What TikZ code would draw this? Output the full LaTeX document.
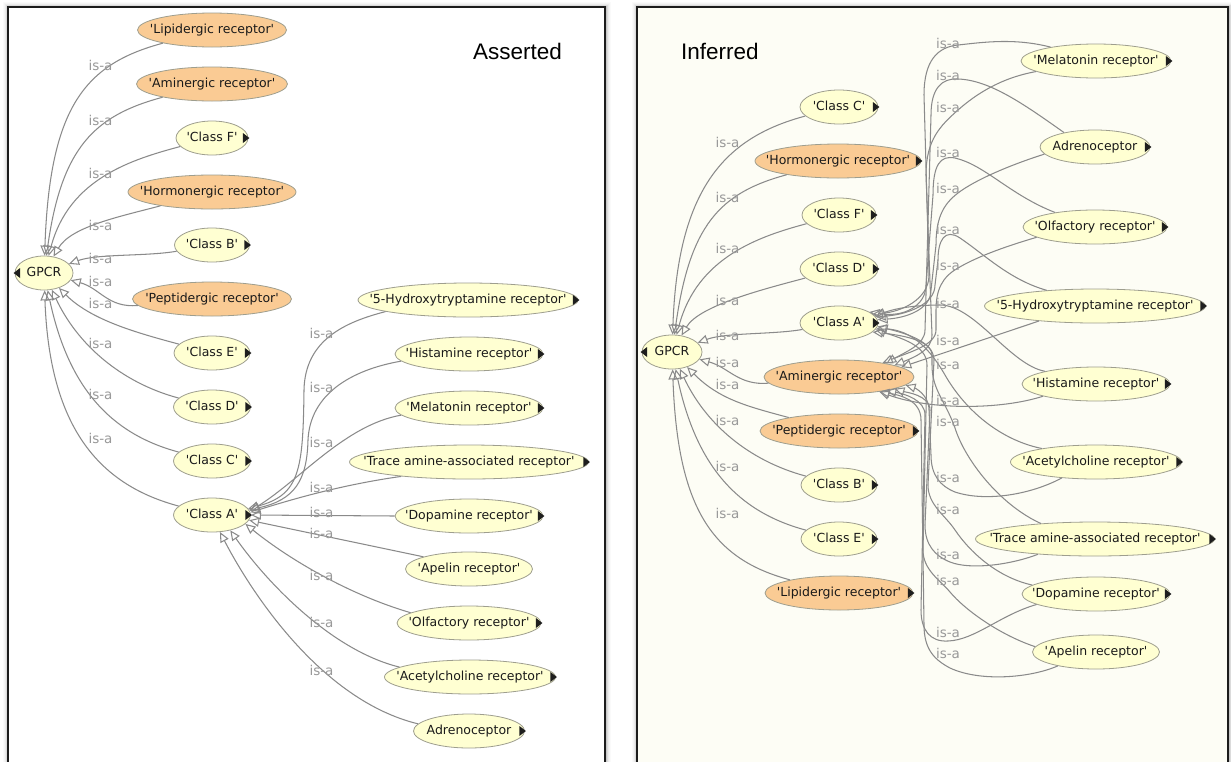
\documentclass[tikz,border=0pt]{standalone}
\usepackage{fontspec}
\usetikzlibrary{arrows.meta,shapes.geometric}
\newfontfamily\nodefont{DejaVu Sans}
\newfontfamily\headfont{Liberation Sans}
\definecolor{yelfill}{HTML}{FFFFD2}
\definecolor{orgfill}{HTML}{FACB94}
\definecolor{nodeline}{HTML}{9E9E8E}
\definecolor{edgecol}{HTML}{8A8A8A}
\definecolor{isacol}{HTML}{999999}
\definecolor{txtcol}{HTML}{1A1A1A}
\definecolor{markcol}{HTML}{1E1E1E}
\definecolor{creambg}{HTML}{FDFDF5}
\definecolor{framecol}{HTML}{1C1C1C}
% centred label that does not widen the ellipse
\newcommand\nt[1]{\makebox[0pt]{#1}}
% expand markers drawn on the ellipse ends
\newcommand\moreR[1]{\fill[markcol] ([xshift=-5.5pt,yshift=5pt]#1.east) -- ++(6.5,-5) -- ++(-6.5,-5) -- cycle;}
\newcommand\moreL[1]{\fill[markcol] ([xshift=5.5pt,yshift=5pt]#1.west) -- ++(-6.5,-5) -- ++(6.5,-5) -- cycle;}
\begin{document}
\begin{tikzpicture}[x=1pt,y=1pt,
  cls/.style={ellipse, draw=nodeline, line width=0.8pt, inner sep=0pt, minimum height=34pt,
    text=txtcol, font=\nodefont\fontsize{12.5}{14}\selectfont, text height=9pt, text depth=2.5pt},
  yel/.style={cls, fill=yelfill},
  org/.style={cls, fill=orgfill},
  isaedge/.style={draw=edgecol, line width=1.05pt, -{Triangle[open, length=10pt, width=9pt]}},
  isa/.style={text=isacol, font=\nodefont\fontsize{13.5}{15}\selectfont, inner sep=0pt},
  head/.style={font=\headfont\fontsize{22.5}{26}\selectfont, inner sep=0pt, anchor=base west}
]
\useasboundingbox (0,0) rectangle (1231,-761);
\clip (0,0) rectangle (1231,-761);
\fill[white] (0,0) rectangle (1231,-761);

% soft shadows round the two panels
\foreach \s/\o in {1/0.22,2/0.14,3/0.08,4/0.045,5/0.02}{
  \draw[black, opacity=\o, line width=1pt] (8-\s,-7+\s) rectangle (605+\s,-790);
  \draw[black, opacity=\o, line width=1pt] (637-\s,-7+\s) rectangle (1228+\s,-790);
}
\filldraw[fill=white, draw=framecol, line width=1.2pt] (8,-7) rectangle (605,-790);
\filldraw[fill=creambg, draw=framecol, line width=1.2pt] (637,-7) rectangle (1228,-790);

\node[head] (tA) at (473,-59) {Asserted};
\node[head] (tI) at (681,-59) {Inferred};

% ---------------- asserted hierarchy ----------------
\node[yel, minimum width=58pt]  (lG)    at (44,-273)  {\nt{GPCR}};
\node[org, minimum width=149pt] (lLip)  at (212,-30)  {\nt{'Lipidergic receptor'}};
\node[org, minimum width=151pt] (lAmin) at (212,-84)  {\nt{'Aminergic receptor'}};
\node[yel, minimum width=72pt]  (lF)    at (212,-138) {\nt{'Class F'}};
\node[org, minimum width=168pt] (lHorm) at (212,-192) {\nt{'Hormonergic receptor'}};
\node[yel, minimum width=75pt]  (lB)    at (212,-245) {\nt{'Class B'}};
\node[org, minimum width=159pt] (lPept) at (212,-299) {\nt{'Peptidergic receptor'}};
\node[yel, minimum width=76pt]  (lE)    at (212,-353) {\nt{'Class E'}};
\node[yel, minimum width=77pt]  (lD)    at (212,-407) {\nt{'Class D'}};
\node[yel, minimum width=77pt]  (lC)    at (212,-461) {\nt{'Class C'}};
\node[yel, minimum width=77pt]  (lA)    at (212,-515) {\nt{'Class A'}};

\node[yel, minimum width=220pt] (l5ht)   at (468,-300) {\nt{'5-Hydroxytryptamine receptor'}};
\node[yel, minimum width=148pt] (lHist)  at (469,-354) {\nt{'Histamine receptor'}};
\node[yel, minimum width=148pt] (lMel)   at (469,-408) {\nt{'Melatonin receptor'}};
\node[yel, minimum width=239pt] (lTrace) at (469,-462) {\nt{'Trace amine-associated receptor'}};
\node[yel, minimum width=148pt] (lDop)   at (469,-516) {\nt{'Dopamine receptor'}};
\node[yel, minimum width=127pt] (lApel)  at (469,-569) {\nt{'Apelin receptor'}};
\node[yel, minimum width=144pt] (lOlf)   at (469,-623) {\nt{'Olfactory receptor'}};
\node[yel, minimum width=171pt] (lAcet)  at (470,-677) {\nt{'Acetylcholine receptor'}};
\node[yel, minimum width=111pt] (lAdr)   at (469,-731) {\nt{Adrenoceptor}};

% edges to GPCR
\draw[isaedge] (lLip)  to[out=195, in=88,  out distance=80pt, in distance=150pt] (lG);
\draw[isaedge] (lAmin) to[out=195, in=82,  out distance=70pt, in distance=110pt] (lG);
\draw[isaedge] (lF)    to[out=195, in=75,  out distance=50pt, in distance=80pt]  (lG);
\draw[isaedge] (lHorm) to[out=195, in=60,  out distance=40pt, in distance=35pt]  (lG);
\draw[isaedge] (lB)    to[out=190, in=20,  out distance=30pt, in distance=30pt]  (lG);
\draw[isaedge] (lPept) to[out=185, in=-15, out distance=30pt, in distance=30pt]  (lG);
\draw[isaedge] (lE)    to[out=165, in=-45, out distance=45pt, in distance=45pt]  (lG);
\draw[isaedge] (lD)    to[out=165, in=-65, out distance=60pt, in distance=60pt]  (lG);
\draw[isaedge] (lC)    to[out=165, in=-78, out distance=70pt, in distance=100pt] (lG);
\draw[isaedge] (lA)    to[out=165, in=-88, out distance=80pt, in distance=140pt] (lG);

% edges to 'Class A'
\draw[isaedge] (l5ht.188) .. controls (345,-322) and (305,-340) .. (304,-390)
  .. controls (303,-470) and (300,-495) .. (lA.10);
\draw[isaedge] (lHist.186) .. controls (350,-370) and (310,-395) .. (308,-440)
  .. controls (307,-480) and (295,-500) .. (lA.8);
\draw[isaedge] (lMel.186) .. controls (345,-425) and (300,-480) .. (lA.6);
\draw[isaedge] (lTrace.192) .. controls (340,-485) and (290,-500) .. (lA.4);
\draw[isaedge] (lDop.west) -- (lA.east);
\draw[isaedge] (lApel.165) -- (lA.-8);
\draw[isaedge] (lOlf.170) .. controls (350,-595) and (290,-560) .. (lA.-15);
\draw[isaedge] (lAcet.172) .. controls (330,-650) and (265,-580) .. (lA.-40);
\draw[isaedge] (lAdr.172) .. controls (320,-700) and (250,-590) .. (lA.-65);

\foreach \y in {65,120,173,225,258,281,303,343,394,438}
  {\node[isa] at (100.5,-\y) {is-a};}
\foreach \y in {333,387,442,487,512,533,575,622,670}
  {\node[isa] at (321.5,-\y) {is-a};}

\moreL{lG}
\foreach \n in {lF,lB,lE,lD,lC,lA,l5ht,lHist,lMel,lTrace,lDop,lOlf,lAcet,lAdr}
  {\moreR{\n}}

% ---------------- inferred hierarchy ----------------
\node[yel, minimum width=60pt]  (rG)    at (672,-352) {\nt{GPCR}};
\node[yel, minimum width=78pt]  (rC)    at (839,-107) {\nt{'Class C'}};
\node[org, minimum width=166pt] (rHorm) at (838,-161) {\nt{'Hormonergic receptor'}};
\node[yel, minimum width=74pt]  (rF)    at (839,-215) {\nt{'Class F'}};
\node[yel, minimum width=78pt]  (rD)    at (839,-269) {\nt{'Class D'}};
\node[yel, minimum width=78pt]  (rA)    at (839,-323) {\nt{'Class A'}};
\node[org, minimum width=150pt] (rAmin) at (839,-377) {\nt{'Aminergic receptor'}};
\node[org, minimum width=158pt] (rPept) at (839,-431) {\nt{'Peptidergic receptor'}};
\node[yel, minimum width=76pt]  (rB)    at (839,-485) {\nt{'Class B'}};
\node[yel, minimum width=76pt]  (rE)    at (839,-539) {\nt{'Class E'}};
\node[org, minimum width=148pt] (rLip)  at (839,-593) {\nt{'Lipidergic receptor'}};

\node[yel, minimum width=150pt] (rMel)   at (1096,-61)  {\nt{'Melatonin receptor'}};
\node[yel, minimum width=110pt] (rAdr)   at (1095,-147) {\nt{Adrenoceptor}};
\node[yel, minimum width=144pt] (rOlf)   at (1095,-227) {\nt{'Olfactory receptor'}};
\node[yel, minimum width=221pt] (r5ht)   at (1095,-306) {\nt{'5-Hydroxytryptamine receptor'}};
\node[yel, minimum width=148pt] (rHist)  at (1096,-384) {\nt{'Histamine receptor'}};
\node[yel, minimum width=171pt] (rAcet)  at (1096,-462) {\nt{'Acetylcholine receptor'}};
\node[yel, minimum width=239pt] (rTrace) at (1095,-539) {\nt{'Trace amine-associated receptor'}};
\node[yel, minimum width=148pt] (rDop)   at (1096,-594) {\nt{'Dopamine receptor'}};
\node[yel, minimum width=127pt] (rApel)  at (1096,-652) {\nt{'Apelin receptor'}};

% edges to GPCR
\draw[isaedge] (rC)    to[out=195, in=88,  out distance=80pt, in distance=150pt] (rG);
\draw[isaedge] (rHorm) to[out=195, in=82,  out distance=70pt, in distance=110pt] (rG);
\draw[isaedge] (rF)    to[out=195, in=75,  out distance=50pt, in distance=80pt]  (rG);
\draw[isaedge] (rD)    to[out=195, in=60,  out distance=40pt, in distance=35pt]  (rG);
\draw[isaedge] (rA)    to[out=190, in=20,  out distance=30pt, in distance=30pt]  (rG);
\draw[isaedge] (rAmin) to[out=185, in=-15, out distance=30pt, in distance=30pt]  (rG);
\draw[isaedge] (rPept) to[out=165, in=-45, out distance=45pt, in distance=45pt]  (rG);
\draw[isaedge] (rB)    to[out=165, in=-65, out distance=60pt, in distance=60pt]  (rG);
\draw[isaedge] (rE)    to[out=165, in=-78, out distance=70pt, in distance=100pt] (rG);
\draw[isaedge] (rLip)  to[out=165, in=-88, out distance=80pt, in distance=140pt] (rG);

% direct edges
\draw[isaedge] (rHist.166) .. controls (1010,-365) and (975,-305) .. (940,-305)
  .. controls (910,-305) and (890,-310) .. (rA.10);
\draw[isaedge] (r5ht.195) -- (rAmin.9);
\draw[isaedge] (rAcet.166) .. controls (1000,-440) and (965,-410) .. (945,-375)
  .. controls (925,-340) and (905,-330) .. (rA.-8);
\draw[isaedge] (rHist.193) .. controls (1000,-410) and (930,-410) .. (rAmin.-20);

% edges running down the bundle
\draw[isaedge] (rMel.163) .. controls (1015,-38) and (985,-42) .. (958,-45)
  .. controls (938,-47) and (924,-60) .. (924,-95) -- (929,-275)
  .. controls (929,-300) and (900,-312) .. (rA.15);
\draw[isaedge] (rAdr.155) .. controls (1025,-105) and (990,-80) .. (958,-79)
  .. controls (942,-78) and (931,-88) .. (931,-115) -- (925,-330)
  .. controls (925,-345) and (905,-352) .. (rAmin.16);
\draw[isaedge] (rMel.190) .. controls (1000,-78) and (975,-95) .. (958,-110)
  .. controls (940,-126) and (926,-140) .. (926,-175) -- (932,-335)
  .. controls (932,-350) and (915,-357) .. (rAmin.12);
\draw[isaedge] (rOlf.160) .. controls (1010,-195) and (985,-165) .. (955,-158)
  .. controls (940,-155) and (933,-165) .. (933,-195) -- (926,-285)
  .. controls (926,-305) and (905,-318) .. (rA.20);
\draw[isaedge] (rAdr.188) .. controls (1010,-165) and (975,-180) .. (958,-193)
  .. controls (942,-205) and (936,-220) .. (936,-245) -- (931,-290)
  .. controls (931,-310) and (905,-318) .. (rA.5);
\draw[isaedge] (r5ht.162) .. controls (1010,-280) and (985,-255) .. (960,-238)
  .. controls (945,-228) and (938,-240) .. (938,-260) -- (935,-285)
  .. controls (935,-305) and (905,-315) .. (rA.10);
\draw[isaedge] (rOlf.190) .. controls (1000,-248) and (975,-258) .. (958,-268)
  .. controls (942,-277) and (936,-290) .. (936,-310) -- (936,-330)
  .. controls (936,-345) and (910,-352) .. (rAmin.18);

% edges running up the bundle
\draw[isaedge] (rTrace.164) .. controls (1000,-505) and (965,-460) .. (955,-428)
  .. controls (945,-400) and (932,-390) .. (932,-365) -- (932,-355)
  .. controls (932,-340) and (900,-335) .. (rA.-15);
\draw[isaedge] (rAcet.205) .. controls (1030,-495) and (985,-502) .. (955,-492)
  .. controls (940,-486) and (931,-475) .. (931,-455) -- (929,-410)
  .. controls (929,-395) and (915,-388) .. (rAmin.-7);
\draw[isaedge] (rDop.172) .. controls (1000,-578) and (972,-555) .. (955,-530)
  .. controls (945,-515) and (928,-505) .. (928,-485) -- (934,-360)
  .. controls (934,-340) and (900,-332) .. (rA.-5);
\draw[isaedge] (rTrace.195) .. controls (1010,-565) and (970,-570) .. (950,-562)
  .. controls (935,-556) and (925,-545) .. (925,-525) -- (930,-410)
  .. controls (930,-395) and (905,-392) .. (rAmin.-12);
\draw[isaedge] (rApel.175) .. controls (1000,-635) and (965,-610) .. (950,-592)
  .. controls (940,-580) and (923,-570) .. (923,-550) -- (927,-365)
  .. controls (927,-345) and (900,-338) .. (rA.-10);
\draw[isaedge] (rDop.190) .. controls (1000,-615) and (975,-640) .. (948,-641)
  .. controls (930,-642) and (921,-630) .. (921,-610) -- (925,-415)
  .. controls (925,-400) and (905,-394) .. (rAmin.-16);
\draw[isaedge] (rApel.200) .. controls (1030,-678) and (980,-682) .. (950,-668)
  .. controls (935,-660) and (924,-650) .. (924,-625) -- (921,-420)
  .. controls (921,-400) and (900,-395) .. (rAmin.-20);

\foreach \y in {142,197,248,300,335,362,384,420,466,513}
  {\node[isa] at (727.5,-\y) {is-a};}
\foreach \y in {43,75,107,152,188,229,265,303,340,364,400,421,477,509,554,580,632,653}
  {\node[isa] at (948,-\y) {is-a};}

\moreL{rG}
\foreach \n in {rC,rHorm,rF,rD,rA,rPept,rB,rE,rLip,rMel,rAdr,rOlf,r5ht,rHist,rAcet,rTrace,rDop}
  {\moreR{\n}}
\end{tikzpicture}
\end{document}
